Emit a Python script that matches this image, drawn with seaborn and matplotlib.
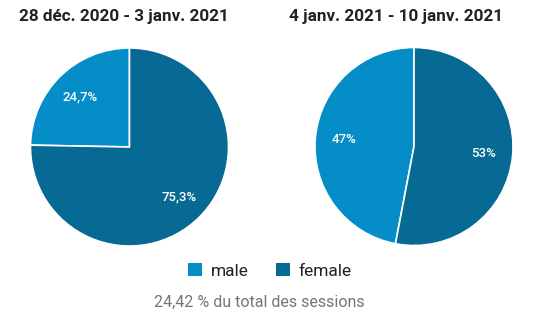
import matplotlib
matplotlib.use("Agg")
import matplotlib.pyplot as plt
from matplotlib.patches import Patch
import seaborn as sns

# ---- data ----
periods = ["28 déc. 2020 - 3 janv. 2021", "4 janv. 2021 - 10 janv. 2021"]
genders = ["male", "female"]
male_pct = [24.7, 47.0]
female_pct = [75.3, 53.0]
footer = "24,42 % du total des sessions"

sns.set_theme(style="white")
plt.rcParams['font.family'] = ['Roboto', 'DejaVu Sans']
colors = ["#058dc7", "#066a94"]

W, H = 544, 331
fig = plt.figure(figsize=(W / 100, H / 100), dpi=100)
fig.patch.set_facecolor("white")

def fmt(v):
    if abs(v - round(v)) < 1e-9:
        return f"{int(round(v))}%"
    return f"{v:.1f}".replace(".", ",") + "%"

# pie boxes in pixel coords: (left, top, size)
boxes = [(29.5, 47.0, 200.0), (314.0, 46.5, 200.0)]
title_x = [123.5, 396]
for i, (l, t, s) in enumerate(boxes):
    ax = fig.add_axes([l / W, (H - t - s) / H, s / W, s / H])
    vals = [male_pct[i], female_pct[i]]
    wedges, texts, autotexts = ax.pie(
        vals, colors=colors, startangle=90, counterclock=True,
        autopct=lambda p: fmt(round(p, 1)), pctdistance=0.71,
        wedgeprops=dict(edgecolor="white", linewidth=1.2),
        textprops=dict(color="white", fontsize=9.5, fontweight="medium"),
    )
    ax.set_xlim(-1.01, 1.01)
    ax.set_ylim(-1.01, 1.01)
    ax.set_aspect("equal")
    ax.axis("off")
    fig.text(title_x[i] / W, 1 - 17 / H, periods[i], ha="center", va="center",
             fontsize=12.3, fontweight="bold", color="#212121")

handles = [Patch(facecolor=c, edgecolor="none", label=g) for c, g in zip(colors, genders)]
fig.legend(handles=handles, loc="center", bbox_to_anchor=(270 / W, 1 - 271 / H),
           ncol=2, frameon=False, fontsize=12.5, handlelength=0.8, handleheight=0.8,
           handletextpad=0.5, columnspacing=1.6, labelcolor="#212121")

fig.text(259.5 / W, 1 - 302 / H, footer, ha="center", va="center",
         fontsize=11.5, color="#757575")

fig.savefig("out.png", dpi=100, facecolor="white")
